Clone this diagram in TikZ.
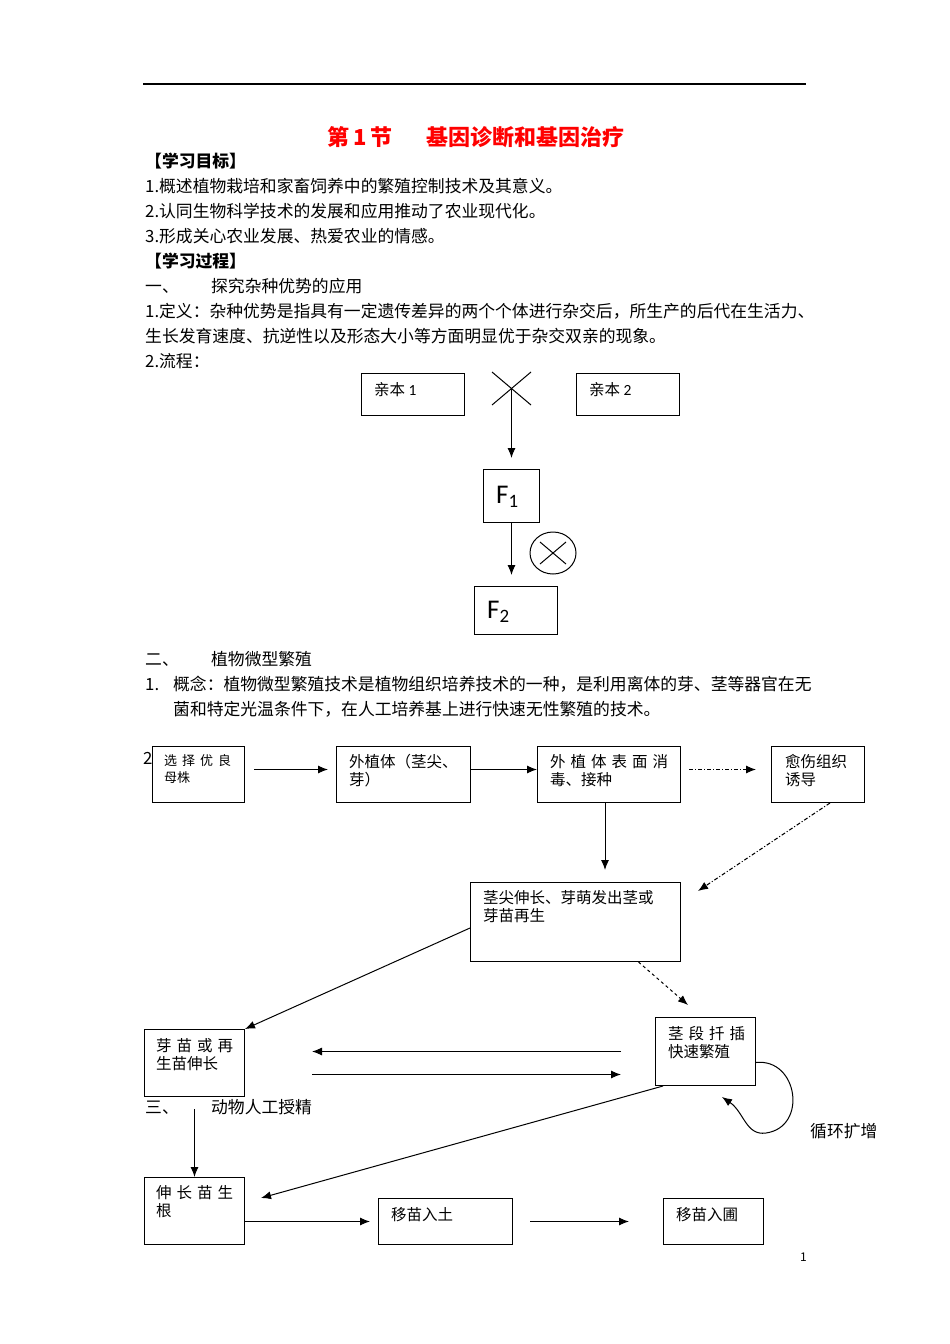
\documentclass[tikz,border=0pt]{standalone}
\usepackage{fontspec}
\usetikzlibrary{arrows.meta}
\newfontfamily\cjk{Noto Sans CJK SC}
\newfontfamily\calibri{Carlito}
\newcommand\zw{\cjk\fontsize{16.8}{20}\selectfont}
\newcommand\kz{\cjk\fontsize{15.5}{18}\selectfont}
\newcommand\jg{\hskip5pt}

\tikzset{
  hang/.style={anchor=west, inner sep=0pt, font=\zw},
  kuang/.style={draw, line width=1pt, anchor=north west, inner sep=0pt},
  kwz/.style={anchor=north west, inner sep=0pt, align=left, font=\kz, xshift=12pt, yshift=-8pt},
  jt/.style={line width=1pt, -{Latex[length=10pt,width=8pt]}},
  dd/.style={dash pattern=on 4pt off 2pt on 1pt off 2pt},
}

\begin{document}
\begin{tikzpicture}[x=1pt,y=-1pt]
		\useasboundingbox (0,0) rectangle (950,1344);
		%%%%% header %%%%%
		\draw[line width=1.3pt] (143,84) -- (806,84);
		\node[hang, text=red, font=\cjk\bfseries\fontsize{22}{24}\selectfont] (biaoti) at (327,137) {第\hspace{4pt}1\hspace{4pt}节\hspace{34pt}基因诊断和基因治疗};
		
		\node[hang, font=\zw\bfseries] (mubiao) at (145,161) {【学习目标】};
		\node[hang] (mb1) at (145,186) {1.概述植物栽培和家畜饲养中的繁殖控制技术及其意义。};
		\node[hang] (mb2) at (145,211) {2.认同生物科学技术的发展和应用推动了农业现代化。};
		\node[hang] (mb3) at (145,236) {3.形成关心农业发展、热爱农业的情感。};
		\node[hang, font=\zw\bfseries] (guocheng) at (145,261) {【学习过程】};
		\node[hang] (yi) at (145,286) {\makebox[66pt][l]{一、}探究杂种优势的应用};
		\node[hang] (dy1) at (145,311) {1.定义：杂种优势是指具有一定遗传差异的两个个体进行杂交后，所生产的后代在生活力、};
		\node[hang] (dy2) at (145,336) {生长发育速度、抗逆性以及形态大小等方面明显优于杂交双亲的现象。};
		\node[hang] (lc) at (145,361) {2.流程：};
		
		%%%%% hybrid %%%%%
		\node[kuang, minimum width=103pt, minimum height=42pt,
			label={[kwz, xshift=1pt, yshift=-1pt]north west:{亲本 {\calibri 1}}}] (qb1) at (361,373) {};
		\node[kuang, minimum width=103pt, minimum height=42pt,
			label={[kwz, xshift=1pt, yshift=-1pt]north west:{亲本 {\calibri 2}}}] (qb2) at (576,373) {};
		\coordinate (jiao) at (511.5,388.5);
		\draw[line width=1pt] (jiao) ++(-19.5,-16.5) -- ++(39,33);
		\draw[line width=1pt] (jiao) ++(19.5,-16.5) -- ++(-39,33);
		\node[kuang, minimum width=56pt, minimum height=53pt,
			label={[kwz, font=\calibri\fontsize{27}{30}\selectfont, xshift=1pt, yshift=-9pt]north west:{F\textsubscript{1}}}] (f1) at (483,469) {};
		\node[kuang, minimum width=83pt, minimum height=48pt,
			label={[kwz, font=\calibri\fontsize{27}{30}\selectfont, xshift=1pt, yshift=-7pt]north west:{F\textsubscript{2}}}] (f2) at (474,586) {};
		\draw[jt, shorten >=11pt] (jiao) -- (f1);
		\draw[jt, shorten >=11pt] (f1.south) -- (f1.south |- f2.north);
		\coordinate (zj) at (553,553);
		\draw[line width=1pt] (zj) ellipse [x radius=23, y radius=21];
		\draw[line width=1pt] (zj) ++(-13,-11) -- ++(26,22);
		\draw[line width=1pt] (zj) ++(13,-11) -- ++(-26,22);
		
		%%%%% micro propagation %%%%%
		\node[hang] (er) at (145,659) {\makebox[66pt][l]{二、}植物微型繁殖};
		\node[hang] (gn1) at (145,684) {\makebox[28pt][l]{1.}概念：植物微型繁殖技术是植物组织培养技术的一种，是利用离体的芽、茎等器官在无};
		\node[hang] (gn2) at (173,709) {菌和特定光温条件下，在人工培养基上进行快速无性繁殖的技术。};
		\node[hang] (er2) at (143,758) {2};
		
		\node[kuang, minimum width=92pt, minimum height=56pt,
			label={[kwz, font=\cjk\fontsize{13}{17}\selectfont]north west:{选\jg 择\jg 优\jg 良\\母株}}] (xz) at (152,746) {};
		\node[kuang, minimum width=134pt, minimum height=56pt,
			label={[kwz, xshift=1pt]north west:{外植体（茎尖、\\芽）}}] (wzt) at (336,746) {};
		\node[kuang, minimum width=143pt, minimum height=56pt,
			label={[kwz, xshift=1pt]north west:{外\jg 植\jg 体\jg 表\jg 面\jg 消\\毒、接种}}] (xd) at (537,746) {};
		\node[kuang, minimum width=93pt, minimum height=56pt,
			label={[kwz, xshift=2pt]north west:{愈伤组织\\诱导}}] (ys) at (771,746) {};
		\node[kuang, minimum width=210pt, minimum height=79pt,
			label={[kwz, xshift=1pt]north west:{茎尖伸长、芽萌发出茎或\\芽苗再生}}] (jj) at (470,882) {};
		\node[kuang, minimum width=100pt, minimum height=67pt,
			label={[kwz, yshift=-1pt]north west:{芽\jg 苗\jg 或\jg 再\\生苗伸长}}] (ym) at (144,1029) {};
		\node[kuang, minimum width=100pt, minimum height=68pt,
			label={[kwz, xshift=1pt, yshift=-1pt]north west:{茎\jg 段\jg 扦\jg 插\\快速繁殖}}] (qc) at (655,1017) {};
		\node[kuang, minimum width=100pt, minimum height=67pt,
			label={[kwz]north west:{伸\jg 长\jg 苗\jg 生\\根}}] (sg) at (144,1177) {};
		\node[kuang, minimum width=134pt, minimum height=46pt,
			label={[kwz, xshift=1pt, yshift=-1pt]north west:{移苗入土}}] (rt) at (378,1198) {};
		\node[kuang, minimum width=100pt, minimum height=46pt,
			label={[kwz, xshift=1pt, yshift=-1pt]north west:{移苗入圃}}] (rp) at (663,1198) {};
		
		\node[hang] (san) at (145,1107) {\makebox[66pt][l]{三、}动物人工授精};
		\node[hang] (xh) at (810,1131) {循环扩增};
		\node[hang, font=\cjk\fontsize{12}{14}\selectfont] (yema) at (800,1257) {1};
		
		%%%%% arrows %%%%%
		\draw[jt, shorten <=9pt, shorten >=8pt] ([yshift=5pt]xz.east) -- ([yshift=5pt]wzt.west);
		\draw[jt] ([yshift=5pt]wzt.east) -- ([yshift=5pt]xd.west);
		\draw[jt, dd, shorten <=8pt, shorten >=15pt] ([yshift=5pt]xd.east) -- ([yshift=5pt]ys.west);
		\draw[jt, shorten >=12pt] ([xshift=-4pt]xd.south) -- ([xshift=-4pt]xd.south |- jj.north);
		\draw[jt, dd] ([xshift=12pt]ys.south) -- ([xshift=17pt,yshift=-9pt]jj.north east);
		\draw[jt] ([yshift=-6pt]jj.west) -- (ym.north east);
		\draw[jt, dashed] ([xshift=63pt]jj.south) -- ([xshift=33pt,yshift=12pt]qc.north west);
		\coordinate (fr) at ([yshift=-11.5pt]ym.east);
		\draw[jt, shorten <=34pt, shorten >=67pt] (qc.west) -- (qc.west -| ym.east);
		\draw[jt, shorten <=67pt, shorten >=34pt] (fr) -- (fr -| qc.west);
		\draw[jt, shorten <=12pt] (ym.south) -- (sg.north);
		\draw[jt] ([xshift=8pt]qc.south west) -- ([xshift=16pt,yshift=-21pt]sg.north east);
		\draw[jt, shorten >=8pt] (sg.east |- rt.west) -- (rt.west);
		\draw[jt, shorten <=17pt, shorten >=34pt] (rt.east) -- (rp.west);
		\draw[jt] ([yshift=-11pt]qc.east) .. controls (798,1058) and (808,1127) .. (766,1133)
			.. controls (746,1136) and (744,1112) .. (722,1097);
\end{tikzpicture}
\end{document}
